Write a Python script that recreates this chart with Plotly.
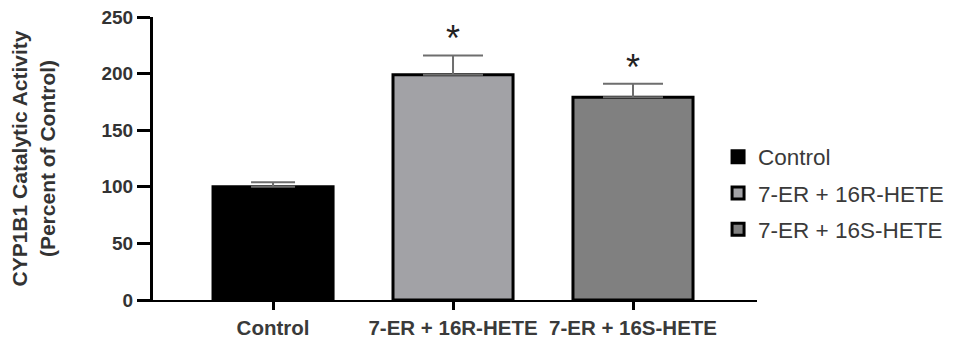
import plotly.graph_objects as go

categories = ["Control", "7-ER + 16R-HETE", "7-ER + 16S-HETE"]
means = [100, 199, 179]
errors = [4, 17, 12]
colors = ["#000000", "#a2a2a6", "#808080"]
significant = [False, True, True]
y_ticks = [0, 50, 100, 150, 200, 250]

fig = go.Figure()
for cat, m, e, c in zip(categories, means, errors, colors):
    fig.add_trace(go.Bar(
        x=[cat], y=[m], name=cat, width=0.667,
        marker=dict(color=c, line=dict(color="#000000", width=3)),
        error_y=dict(type="data", symmetric=False, array=[e], arrayminus=[0],
                     color="#6e6e6e", thickness=2, width=30 if cat != "Control" else 22),
        legendgroup=cat,
    ))

for cat, m, e, s in zip(categories, means, errors, significant):
    if s:
        fig.add_annotation(x=cat, y=m + e, text="*", showarrow=False,
                           yanchor="bottom", yshift=-6,
                           font=dict(size=36, color="#222222", family="Liberation Sans"))

fig.update_layout(
    width=948, height=331,
    margin=dict(l=145, r=199, t=9, b=39, autoexpand=False),
    plot_bgcolor="white", paper_bgcolor="white",
    barmode="overlay",
    font=dict(family="Liberation Sans, Arial, sans-serif", color="#333333"),
    showlegend=True,
    legend=dict(xref="container", yref="container", x=0.749, y=0.441,
                xanchor="left", yanchor="middle",
                bgcolor="rgba(0,0,0,0)",
                font=dict(size=22.5, color="#3a3a3a"), tracegroupgap=4,
                itemwidth=30),
    xaxis=dict(range=[-0.667, 2.689], showline=True, linecolor="#000000", linewidth=2,
               ticks="outside", ticklen=8, tickwidth=3, tickcolor="#000000",
               tickfont=dict(size=20.5, color="#3a3a3a", family="Liberation Sans", weight="bold"),
               showgrid=False, zeroline=False, automargin=False),
    yaxis=dict(range=[0, 250], tickvals=y_ticks,
               showline=True, linecolor="#000000", linewidth=3,
               ticks="outside", ticklen=13, tickwidth=3, tickcolor="#000000",
               tickfont=dict(size=19, color="#333333", family="Liberation Sans", weight="bold"),
               ticklabeloverflow="allow",
               showgrid=False, zeroline=False, automargin=False,
               title=dict(text="<b>CYP1B1 Catalytic Activity<br>(Percent of Control)</b>",
                          font=dict(size=21, color="#333333"), standoff=41)),
)

fig.write_html("out.html")
